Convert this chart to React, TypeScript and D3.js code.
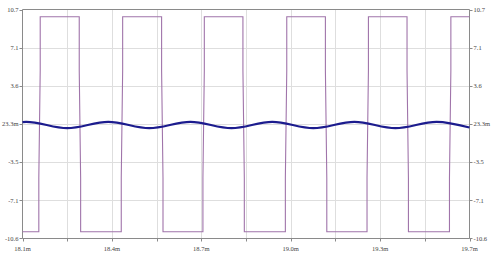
import React from "react";
import * as d3 from "d3";

// ---- data ----
const xDomain = [18.06, 19.66]; // ms
const yDomain = [-10.6267, 10.6733];
const xTickLabels = ["18.1m", "18.4m", "18.7m", "19.0m", "19.3m", "19.7m"];
const yTickLabels = ["10.7", "7.1", "3.6", "23.3m", "-3.5", "-7.1", "-10.6"];

// square wave (purple): edge times in ms
const risingEdges = [18.1209, 18.416, 18.7083, 19.0034, 19.2957, 19.5908];
const fallingEdges = [18.2656, 18.5604, 18.8515, 19.1467, 19.4389];
const squareLow = -10;
const squareHigh = 10;
const edgeMid = [-5, 5]; // small kinks on each edge

// filtered wave (navy): extremes
const waveT = [
  18.06, 18.0733, 18.22, 18.367, 18.514, 18.661, 18.808, 18.954, 19.101,
  19.248, 19.395, 19.542, 19.66,
];
const waveV = [
  0.2, 0.23, -0.36, 0.23, -0.36, 0.23, -0.36, 0.23, -0.36, 0.23, -0.36, 0.23,
  -0.3,
];

const W = 491;
const H = 255;
const L = 22.5;
const R = 469.5;
const T = 9.5;
const B = 238.5;

export default function App() {
  const x = d3.scaleLinear().domain(xDomain).range([L, R]);
  const y = d3.scaleLinear().domain(yDomain).range([B, T]);

  // build square wave points from edges
  const sq: [number, number][] = [[xDomain[0], squareLow]];
  const edges = [
    ...risingEdges.map((t) => ({ t, up: true })),
    ...fallingEdges.map((t) => ({ t, up: false })),
  ].sort((a, b) => a.t - b.t);
  const d = 0.0025;
  edges.forEach(({ t, up }) => {
    const from = up ? squareLow : squareHigh;
    const to = up ? squareHigh : squareLow;
    const m1 = up ? edgeMid[0] : edgeMid[1];
    const m2 = up ? edgeMid[1] : edgeMid[0];
    sq.push([t - d, from], [t - d, m1], [t + d, m2], [t + d, to]);
  });
  sq.push([xDomain[1], squareHigh]);

  const sqLine = d3
    .line<[number, number]>()
    .x((p) => x(p[0]))
    .y((p) => y(p[1]));

  const wave = waveT.map((t, i) => [t, waveV[i]] as [number, number]);
  const waveLine = d3
    .line<[number, number]>()
    .x((p) => x(p[0]))
    .y((p) => y(p[1]))
    .curve(d3.curveMonotoneX);

  const xTicks = d3.range(11).map(
    (i) => xDomain[0] + (i * (xDomain[1] - xDomain[0])) / 10
  );
  const yTicks = d3.range(7).map(
    (i) => yDomain[1] - (i * (yDomain[1] - yDomain[0])) / 6
  );

  const font = "'Liberation Serif', 'Times New Roman', serif";
  const axisColor = "#8a8a8a";
  const gridColor = "#dedede";
  const textColor = "#444";

  return (
    <svg
      width={W}
      height={H}
      style={{ position: "absolute", left: 0, top: 0, background: "#fff" }}
    >
      <rect x={0} y={0} width={W} height={H} fill="#fff" />
      {/* grid */}
      {xTicks.slice(1, -1).map((t, i) => (
        <line
          key={"gx" + i}
          x1={Math.round(x(t)) + 0.5}
          x2={Math.round(x(t)) + 0.5}
          y1={T}
          y2={B}
          stroke={gridColor}
          strokeWidth={1}
        />
      ))}
      {yTicks.slice(1, -1).map((v, i) => (
        <line
          key={"gy" + i}
          x1={L}
          x2={R}
          y1={Math.round(y(v)) + 0.5}
          y2={Math.round(y(v)) + 0.5}
          stroke={gridColor}
          strokeWidth={1}
        />
      ))}
      {/* frame */}
      <line x1={L} x2={R} y1={T} y2={T} stroke={axisColor} />
      <line x1={L} x2={R} y1={B} y2={B} stroke={axisColor} />
      <line x1={L} x2={L} y1={T} y2={B} stroke={axisColor} />
      <line x1={R} x2={R} y1={T} y2={B} stroke={axisColor} />
      {/* ticks */}
      {xTicks.map((t, i) => (
        <line
          key={"tx" + i}
          x1={Math.round(x(t)) + 0.5}
          x2={Math.round(x(t)) + 0.5}
          y1={B}
          y2={B + 3}
          stroke={axisColor}
        />
      ))}
      {yTicks.map((v, i) => (
        <g key={"ty" + i}>
          <line
            x1={L - 3}
            x2={L}
            y1={Math.round(y(v)) + 0.5}
            y2={Math.round(y(v)) + 0.5}
            stroke={axisColor}
          />
          <line
            x1={R}
            x2={R + 3}
            y1={Math.round(y(v)) + 0.5}
            y2={Math.round(y(v)) + 0.5}
            stroke={axisColor}
          />
        </g>
      ))}
      {/* series */}
      <path
        d={sqLine(sq) || ""}
        fill="none"
        stroke="#a074aa"
        strokeWidth={1.1}
      />
      <path
        d={waveLine(wave) || ""}
        fill="none"
        stroke="#1c1c8e"
        strokeWidth={2.2}
      />
      {/* labels */}
      {yTicks.map((v, i) => (
        <g key={"ly" + i} fontFamily={font} fontSize={6.5} fill={textColor}>
          <text x={L - 4} y={y(v) + 2.2} textAnchor="end">
            {yTickLabels[i]}
          </text>
          <text x={R + 4} y={y(v) + 2.2} textAnchor="start">
            {yTickLabels[i]}
          </text>
        </g>
      ))}
      {xTicks
        .filter((_, i) => i % 2 === 0)
        .map((t, i) => (
          <text
            key={"lx" + i}
            x={x(t)}
            y={250.5}
            textAnchor="middle"
            fontFamily={font}
            fontSize={6.5}
            fill={textColor}
          >
            {xTickLabels[i]}
          </text>
        ))}
    </svg>
  );
}
